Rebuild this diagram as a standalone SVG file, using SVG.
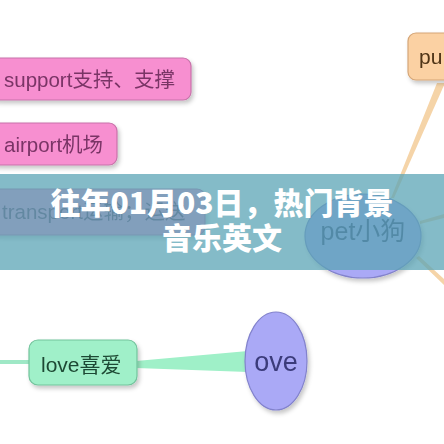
<svg xmlns="http://www.w3.org/2000/svg" width="444" height="444" viewBox="0 0 444 444">
<style>
.pink{fill:#f78fd0;stroke:#c873aa;stroke-width:1.2}
.pinkt{font-family:"Liberation Sans","Noto Sans CJK SC",sans-serif;font-size:20.5px;fill:#7a3466}
.lav{fill:#aaa9f6;stroke:#8282cc;stroke-width:1.2}
.lavt{font-family:"Liberation Sans","Noto Sans CJK SC",sans-serif;fill:#3b3b7a;text-anchor:middle}
.tan{fill:#f5d4a8}
.title{font-family:"Noto Sans CJK SC","Noto Sans CJK JP",sans-serif;font-weight:900;font-size:30px;fill:#ffffff;text-anchor:middle}
</style>
<defs>
<filter id="sh" x="-20%" y="-20%" width="140%" height="150%">
<feDropShadow dx="2" dy="3" stdDeviation="2" flood-color="#000" flood-opacity="0.22"/>
</filter>
</defs>
<rect width="444" height="444" fill="#ffffff"/>
<g id="connectors">
<polygon class="tan" points="437,83 445,83 394,198 391,198"/>
<polygon class="tan" points="420,221 444,214 444,218 420,224"/>
<polygon class="tan" points="416,258 419,256 444,279 444,285"/>
<rect x="0" y="360" width="32" height="4" fill="#9fe8c6"/>
<polygon points="136,361 248,351 248,372 136,368" fill="#9ff0c8"/>
</g>
<g id="node-support" filter="url(#sh)">
<rect class="pink" x="-10" y="58" width="201" height="42" rx="8"/>
<text class="pinkt" x="4" y="87">support支持、支撑</text>
</g>
<g id="node-airport" filter="url(#sh)">
<rect class="pink" x="-10" y="123" width="127" height="42" rx="8"/>
<text class="pinkt" x="4" y="152">airport机场</text>
</g>
<g id="node-transport" filter="url(#sh)">
<rect class="pink" x="-10" y="189" width="215" height="46" rx="8"/>
<text class="pinkt" x="2" y="219">transport运输；运送</text>
</g>
<g id="node-pu" filter="url(#sh)">
<rect x="408" y="33" width="60" height="47" rx="8" fill="#fbd1a3" stroke="#d5a677" stroke-width="1.2"/>
<text x="419" y="64" font-family="Liberation Sans, sans-serif" font-size="21" fill="#4f3418">pu</text>
</g>
<g id="node-pet" filter="url(#sh)">
<ellipse class="lav" cx="363" cy="236" rx="58" ry="42"/>
<text class="lavt" x="363" y="240" font-size="25">pet小狗</text>
</g>
<g id="node-love" filter="url(#sh)">
<rect x="29" y="340" width="108" height="45" rx="9" fill="#a0f0c9" stroke="#72c39c" stroke-width="1.2"/>
<text x="41" y="372" font-family="Liberation Sans, Noto Sans CJK SC, sans-serif" font-size="21" fill="#1f4a34">love喜爱</text>
</g>
<g id="node-ove" filter="url(#sh)">
<ellipse class="lav" cx="276" cy="361" rx="31" ry="49"/>
<text class="lavt" x="276" y="371" font-size="27">ove</text>
</g>
<g id="banner">
<rect x="0" y="174" width="444" height="96" fill="#5ba4b6" fill-opacity="0.75"/>
<text class="title" x="222" y="214">往年01月03日，热门背景</text>
<text class="title" x="222" y="249">音乐英文</text>
</g>
</svg>
